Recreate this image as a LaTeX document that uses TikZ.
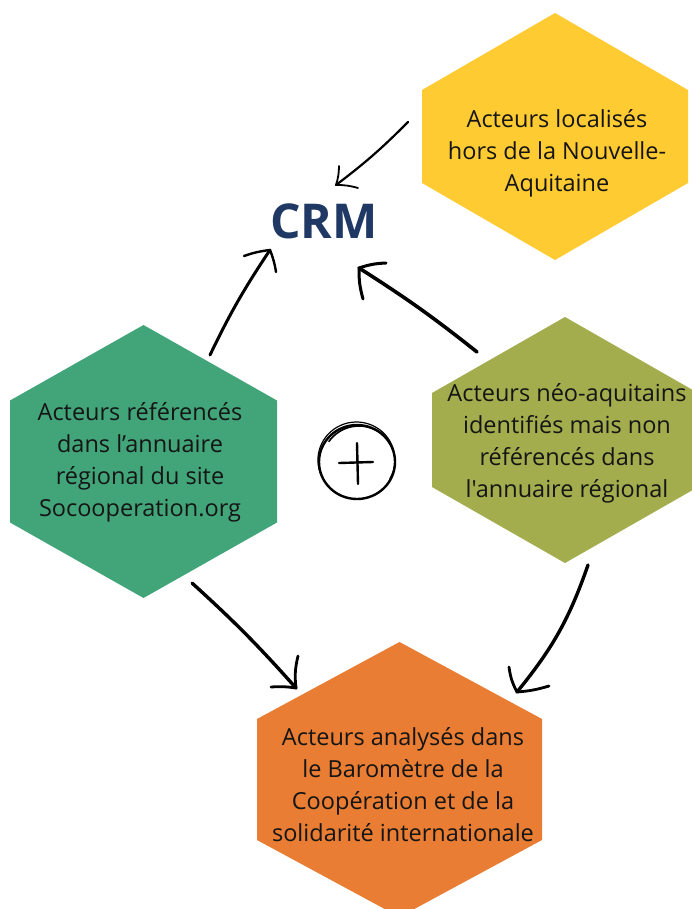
\documentclass[tikz,border=0pt]{standalone}
\usepackage{fontspec}
\setmainfont{Open Sans}[Ligatures=TeXOff]
\definecolor{hexyellow}{HTML}{FFCB33}
\definecolor{hexgreen}{HTML}{42A57A}
\definecolor{hexolive}{HTML}{A3AD4D}
\definecolor{hexorange}{HTML}{E87D33}
\definecolor{crmblue}{HTML}{1F3864}
\definecolor{txt}{HTML}{151515}
\newcommand{\hexfill}[6]{%
  \fill[#6] (#1,#2-#4) -- (#1+#3,#2-#5) -- (#1+#3,#2+#5) -- (#1,#2+#4)
    -- (#1-#3,#2+#5) -- (#1-#3,#2-#5) -- cycle;}
\tikzset{
  hextext/.style={align=center, text=txt, font=\fontsize{23.5}{32}\selectfont, inner sep=0pt},
  hand/.style={line width=3pt, line cap=round, line join=round, black},
  barb/.style={line width=2.4pt, line cap=round, line join=round, black},
}
\begin{document}
\begin{tikzpicture}[x=1pt,y=-1pt]
\useasboundingbox (0,0) rectangle (692,909);
\clip (0,0) rectangle (692,909);
\fill[white] (0,0) rectangle (692,909);

% hexagons
\hexfill{555}{136.5}{133}{123.5}{46.5}{hexyellow}
\hexfill{143.5}{461.5}{133.5}{136.5}{61}{hexgreen}
\hexfill{565}{440}{133}{123}{47}{hexolive}
\hexfill{399.5}{779.5}{142.5}{137.5}{60.5}{hexorange}

% texts
\node[hextext] (yel) at (557,153) {Acteurs localisés\\hors de la Nouvelle-\\Aquitaine};
\node[hextext] (grn) at (140,462) {Acteurs référencés\\dans l’annuaire\\régional du site\\Socooperation.org};
\node[hextext] (olv) at (567,443) {Acteurs néo-aquitains\\identifiés mais non\\référencés dans\\l'annuaire régional};
\node[hextext] (org) at (403,785) {Acteurs analysés dans\\le Baromètre de la\\Coopération et de la\\solidarité internationale};
\node[font=\fontsize{48}{48}\selectfont\bfseries, text=crmblue, inner sep=0pt] (crm) at (324,221) {CRM};

% arrow yellow -> CRM
\coordinate (a1s) at (408,122);
\coordinate (a1t) at (336,185);
\draw[hand, line width=2.2pt] (a1s) to[bend left=4] (a1t);
\draw[barb, line width=1.8pt] (339,166) to[bend left=8] (a1t) to[bend left=8] (358,188);

% arrow green -> CRM
\coordinate (a2s) at (210,355);
\coordinate (a2t) at (270,250);
\draw[hand] (a2s) to[bend left=4] (a2t);
\draw[barb] (244,256) to[bend left=6] (a2t) to[bend left=6] (276,272);

% arrow olive -> CRM
\coordinate (a3s) at (477,352);
\coordinate (a3t) at (359,268);
\draw[hand, line width=3.6pt] (a3s) to[bend right=3] (a3t);
\draw[barb, line width=3pt] (386,263) to[bend right=8] (a3t) to[bend right=8] (363,299);

% arrow green -> orange
\coordinate (a4s) at (192,583);
\coordinate (a4t) at (296,688);
\draw[hand, line width=3.4pt] (a4s) to[bend left=3] (a4t);
\draw[barb, line width=2.8pt] (271,687) to[bend left=6] (a4t) to[bend left=10] (298,656);

% arrow olive -> orange
\coordinate (a5s) at (588,565);
\coordinate (a5t) at (517,692);
\draw[hand, line width=3.4pt] (a5s) to[bend left=10] (a5t);
\draw[barb, line width=2.8pt] (509,667) to[bend right=10] (a5t) to[bend right=6] (549,686);

% plus circle
\coordinate (pc) at (357,462);
\draw[line width=2.4pt] (pc) ellipse[x radius=38, y radius=37];
\draw[line width=1.2pt] ([shift={(-1,-2)}]pc) ++(150:38) arc[start angle=150, end angle=390, x radius=38.5, y radius=38];
\draw[line width=1.6pt] ([shift={(2,1)}]pc) ++(215:37) arc[start angle=215, end angle=300, radius=37];
\draw[line width=2.4pt, line cap=round] (339,463) -- (373,462);
\draw[line width=2.4pt, line cap=round] (357,443) -- (358,484);
\end{tikzpicture}
\end{document}
